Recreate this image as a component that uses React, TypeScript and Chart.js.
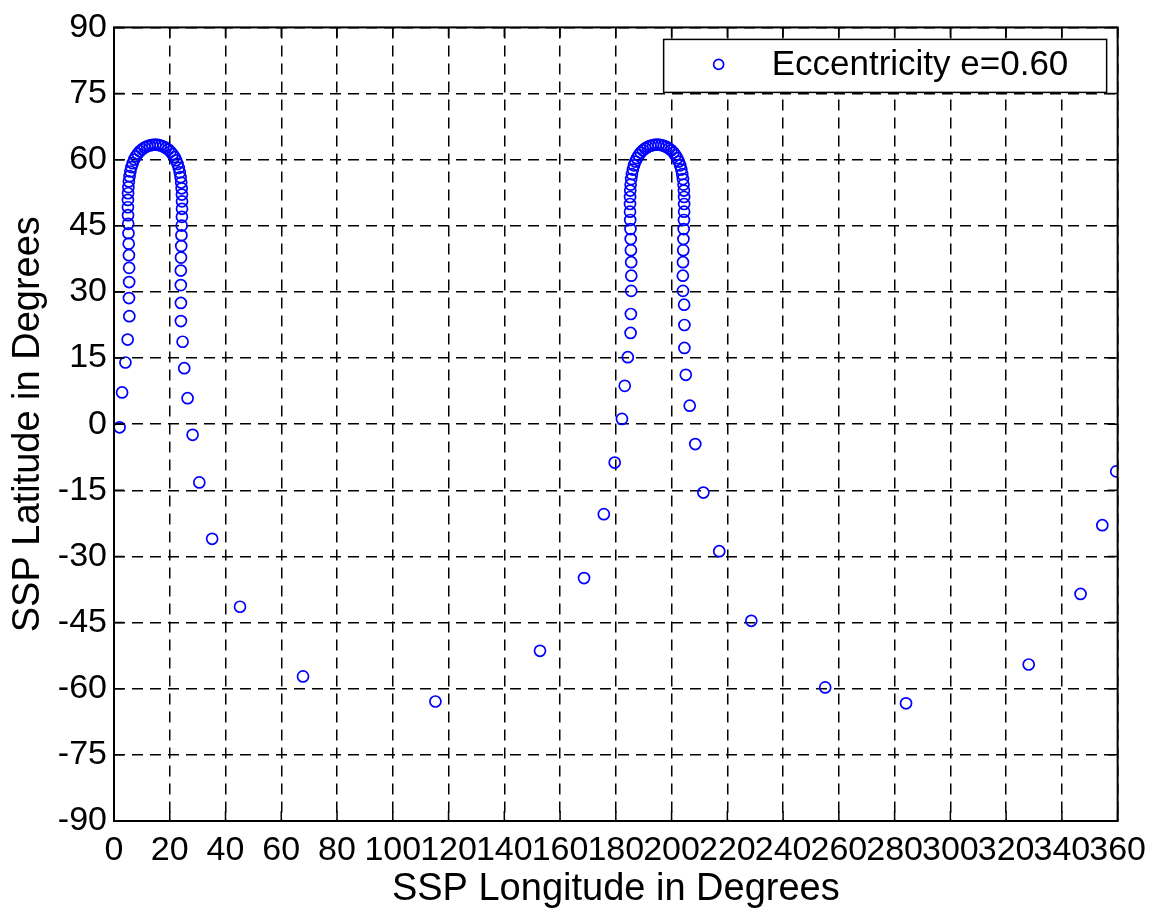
import React, { useEffect, useRef } from "react";
import { Chart, registerables } from "chart.js";

Chart.register(...registerables);

const FONT = '"Liberation Sans", Arial, Helvetica, sans-serif';

const xTicks = [0, 20, 40, 60, 80, 100, 120, 140, 160, 180, 200, 220, 240, 260, 280, 300, 320, 340, 360];
const yTicks = [-90, -75, -60, -45, -30, -15, 0, 15, 30, 45, 60, 75, 90];
const xTitle = "SSP Longitude in Degrees";
const yTitle = "SSP Latitude in Degrees";
const legendLabel = "Eccentricity e=0.60";

// First apogee loop (around 15 deg longitude)
const arch1Lon = [
  2.0, 2.9, 4.1, 4.9, 5.5, 5.37, 5.43, 5.43, 5.35, 5.27, 5.19, 5.10, 5.03, 4.99, 5.00, 5.05,
  5.16, 5.33, 5.57, 5.87, 6.24, 6.70, 7.23, 7.84, 8.52, 9.27, 10.09, 10.96, 11.87, 12.82, 13.79,
  14.82, 15.80, 16.78, 17.72, 18.62, 19.48, 20.28, 21.02, 21.69, 22.28, 22.79, 23.24, 23.60,
  23.89, 24.11, 24.27, 24.36, 24.40, 24.40, 24.36, 24.28, 24.19, 24.12, 24.03, 23.97, 23.97,
  24.0, 24.0, 24.6, 25.2, 26.4, 28.2,
];
const arch1Lat = [
  -0.7, 7.2, 14.0, 19.2, 24.5, 28.61, 32.24, 35.46, 38.33, 40.94, 43.31, 45.45, 47.41, 49.21,
  50.86, 52.38, 53.77, 55.07, 56.25, 57.32, 58.31, 59.21, 60.02, 60.73, 61.36, 61.91, 62.36,
  62.74, 63.03, 63.23, 63.36,
  63.40, 63.35, 63.20, 62.98, 62.67, 62.28, 61.80, 61.24, 60.59, 59.86, 59.04, 58.12, 57.12,
  56.02, 54.81, 53.50, 52.08, 50.54, 48.86, 47.03, 45.04, 42.85, 40.43, 37.79, 34.85, 31.55,
  27.5, 23.4, 18.7, 12.7, 5.9, -2.4,
];

// First perigee pass
const pass1Lon = [30.6, 35.2, 45.2, 67.8, 115.3, 152.8, 168.6, 175.7, 179.6];
const pass1Lat = [-13.2, -26.0, -41.4, -57.2, -62.9, -51.4, -34.9, -20.4, -8.7];

// Second apogee loop (around 195 deg longitude)
const arch2Lon = [
  182.2, 183.2, 184.3, 185.3, 185.4, 185.51, 185.55, 185.51, 185.41, 185.34, 185.26, 185.16,
  185.10, 185.09, 185.11, 185.18, 185.32, 185.51, 185.78, 186.10, 186.52, 187.01, 187.57,
  188.21, 188.92, 189.70, 190.54, 191.43, 192.36, 193.32, 194.31,
  195.29, 196.28, 197.24, 198.17, 199.06, 199.90, 200.68, 201.39, 202.03, 202.59, 203.08,
  203.50, 203.82, 204.09, 204.28, 204.42, 204.49, 204.51, 204.50, 204.44, 204.34, 204.26,
  204.19, 204.09, 204.05, 204.09,
  204.5, 204.6, 204.6, 205.1, 206.5, 208.5,
];
const arch2Lat = [
  1.2, 8.7, 15.2, 20.7, 25.0, 30.24, 33.69, 36.75, 39.48, 41.99, 44.26, 46.31, 48.20, 49.94,
  51.53, 52.99, 54.34, 55.59, 56.72, 57.76, 58.71, 59.57, 60.34, 61.01, 61.61, 62.12, 62.54,
  62.88, 63.14, 63.30, 63.39,
  63.39, 63.30, 63.14, 62.88, 62.54, 62.12, 61.61, 61.01, 60.34, 59.57, 58.71, 57.76, 56.72,
  55.59, 54.34, 52.99, 51.53, 49.94, 48.20, 46.31, 44.26, 41.99, 39.48, 36.75, 33.69, 30.24,
  27.1, 22.5, 17.3, 11.2, 4.2, -4.5,
];

// Second perigee pass
const pass2Lon = [211.4, 217.1, 228.6, 255.1, 284.1, 328.1, 346.7, 354.5, 359.5];
const pass2Lat = [-15.5, -28.8, -44.6, -59.7, -63.3, -54.5, -38.5, -22.9, -10.7];

const zipPoints = (lons: number[], lats: number[]) => lons.map((x, i) => ({ x, y: lats[i] }));

const framePlugin = {
  id: "matlabFrame",
  afterDraw(chart: any) {
    const { ctx, chartArea } = chart;
    const { left, right, top, bottom } = chartArea;
    const xs = chart.scales.x;
    const ys = chart.scales.y;
    ctx.save();
    ctx.setLineDash([]);
    ctx.strokeStyle = "#000";
    ctx.lineWidth = 1.5;
    ctx.beginPath();
    for (const v of xTicks) {
      const px = xs.getPixelForValue(v);
      ctx.moveTo(px, bottom);
      ctx.lineTo(px, bottom - 10);
      ctx.moveTo(px, top);
      ctx.lineTo(px, top + 10);
    }
    for (const v of yTicks) {
      const py = ys.getPixelForValue(v);
      ctx.moveTo(left, py);
      ctx.lineTo(left + 10, py);
      ctx.moveTo(right, py);
      ctx.lineTo(right - 10, py);
    }
    ctx.stroke();
    ctx.lineWidth = 2;
    ctx.strokeRect(left, top, right - left, bottom - top);

    // legend box
    const lw = 443;
    const lh = 53;
    const lx = right - 11 - lw;
    const ly = top + 12;
    ctx.fillStyle = "#fff";
    ctx.fillRect(lx, ly, lw, lh);
    ctx.lineWidth = 1.5;
    ctx.strokeRect(lx, ly, lw, lh);
    ctx.strokeStyle = "#0000ff";
    ctx.lineWidth = 1.7;
    ctx.beginPath();
    ctx.arc(lx + 55, ly + 25, 5, 0, Math.PI * 2);
    ctx.stroke();
    ctx.fillStyle = "#000";
    ctx.font = `35px ${FONT}`;
    ctx.textBaseline = "middle";
    ctx.textAlign = "left";
    ctx.fillText(legendLabel, lx + 108, ly + 26);
    ctx.restore();
  },
};

export default function App() {
  const ref = useRef<HTMLCanvasElement>(null);

  useEffect(() => {
    const canvas = ref.current;
    if (!canvas) return;
    const points = [
      ...zipPoints(arch1Lon, arch1Lat),
      ...zipPoints(pass1Lon, pass1Lat),
      ...zipPoints(arch2Lon, arch2Lat),
      ...zipPoints(pass2Lon, pass2Lat),
    ];
    const tickFont = { family: FONT, size: 34 };
    const titleFont = { family: FONT, size: 38 };
    const chart = new Chart(canvas, {
      type: "scatter",
      data: {
        datasets: [
          {
            label: legendLabel,
            data: points,
            showLine: false,
            pointStyle: "circle",
            pointRadius: 5.5,
            pointHoverRadius: 5.5,
            pointBorderWidth: 1.7,
            borderColor: "#0000ff",
            pointBorderColor: "#0000ff",
            backgroundColor: "rgba(0,0,0,0)",
            pointBackgroundColor: "rgba(0,0,0,0)",
          },
        ],
      },
      options: {
        responsive: false,
        animation: false,
        devicePixelRatio: 1,
        events: [],
        layout: { padding: { top: 26, right: 34, left: 0, bottom: 0 } },
        plugins: { legend: { display: false }, tooltip: { enabled: false } },
        scales: {
          x: {
            type: "linear",
            min: 0,
            max: 360,
            afterBuildTicks: (s: any) => {
              s.ticks = xTicks.map((v) => ({ value: v }));
            },
            afterFit: (s: any) => {
              s.height = 91;
            },
            ticks: { font: tickFont, color: "#000", padding: 9, maxRotation: 0, autoSkip: false },
            grid: { color: "#000", lineWidth: 1.5, drawTicks: false },
            border: { display: false, dash: [11, 7] },
            title: { display: true, text: xTitle, font: titleFont, color: "#000", padding: { top: 0, bottom: 0 } },
          },
          y: {
            type: "linear",
            min: -90,
            max: 90,
            afterBuildTicks: (s: any) => {
              s.ticks = yTicks.map((v) => ({ value: v }));
            },
            afterFit: (s: any) => {
              s.width = 114;
            },
            ticks: { font: tickFont, color: "#000", padding: 7, autoSkip: false },
            grid: { color: "#000", lineWidth: 1.5, drawTicks: false },
            border: { display: false, dash: [11, 7] },
            title: { display: true, text: yTitle, font: titleFont, color: "#000", padding: { top: 6, bottom: 0 } },
          },
        },
      },
      plugins: [framePlugin],
    } as any);
    return () => chart.destroy();
  }, []);

  return (
    <div style={{ position: "absolute", left: 0, top: 0, width: 1155, height: 912, background: "#fff" }}>
      <canvas ref={ref} width={1155} height={912} style={{ display: "block" }} />
    </div>
  );
}
